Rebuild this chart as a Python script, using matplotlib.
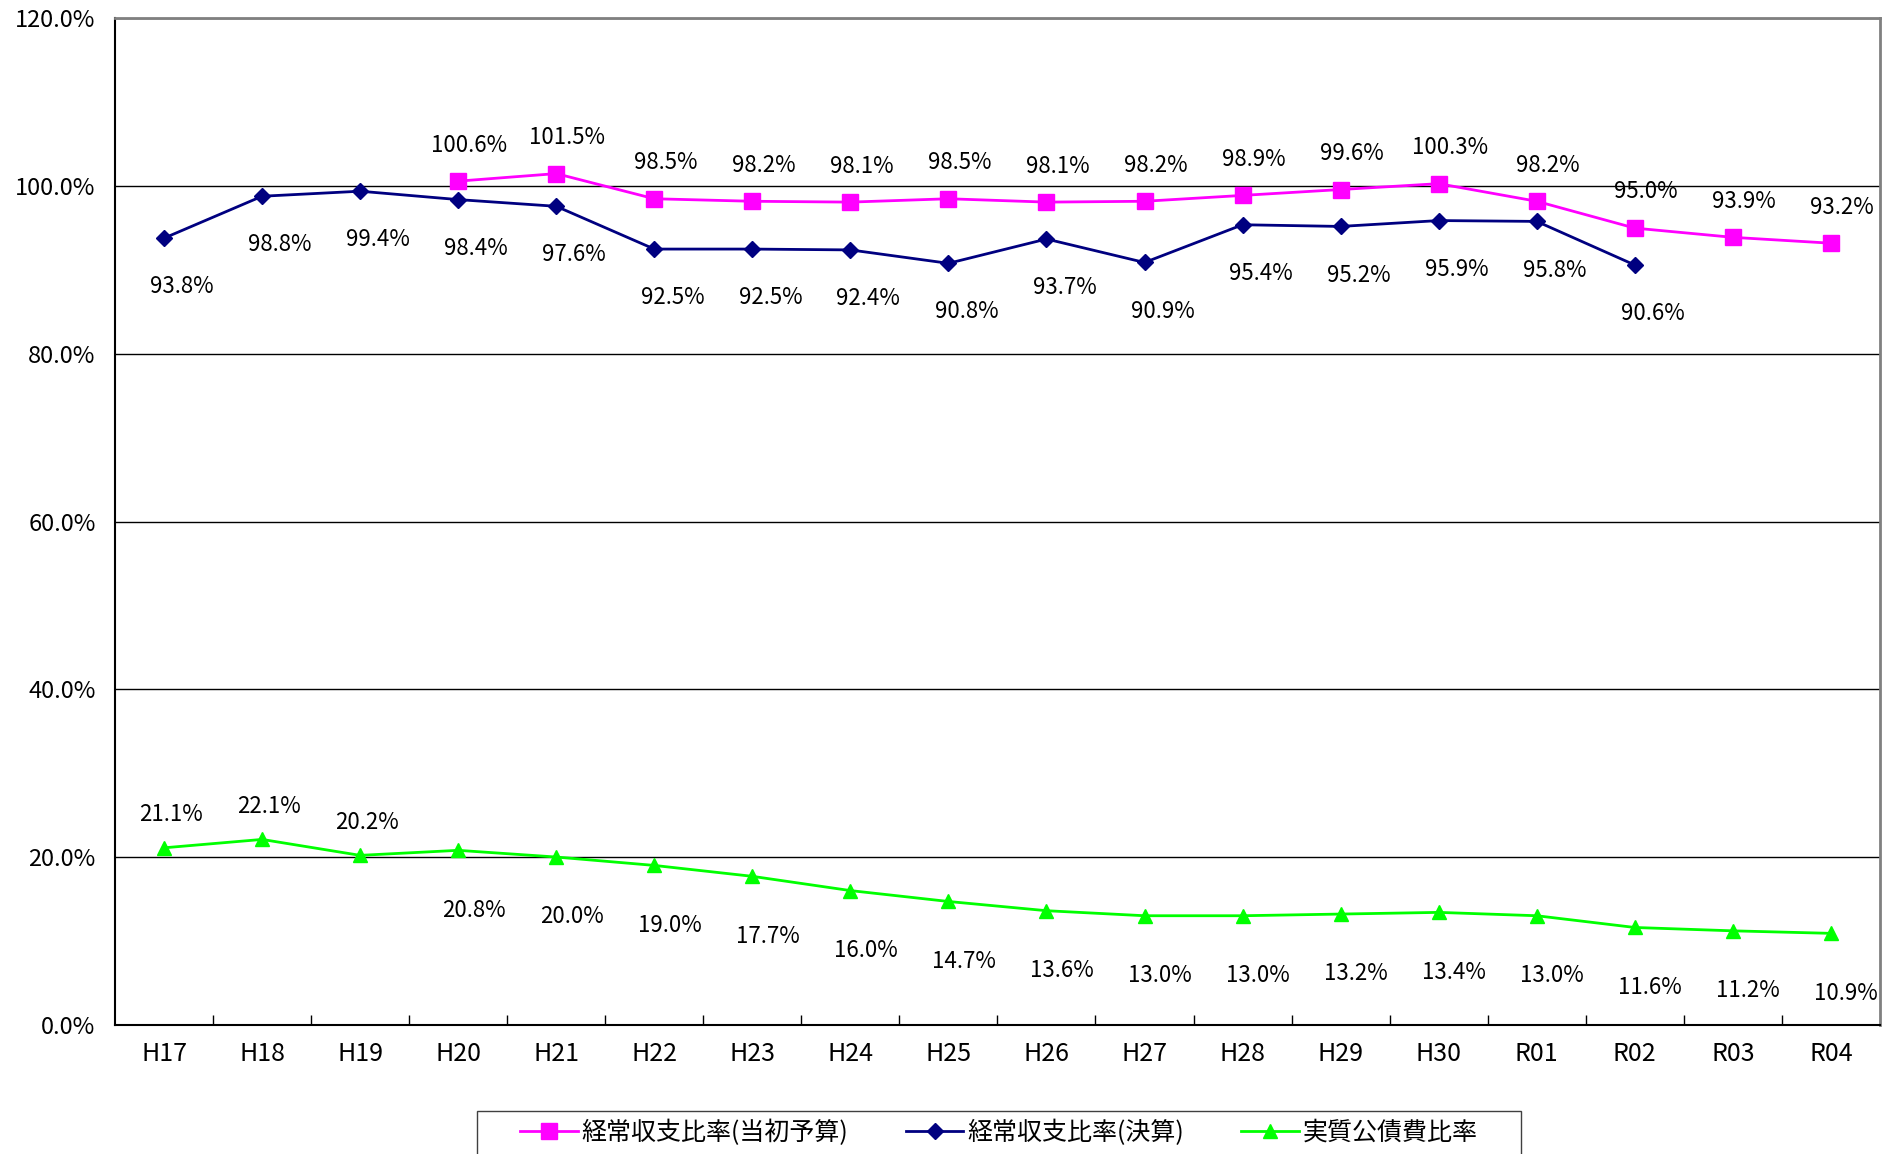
import matplotlib.pyplot as plt
from matplotlib.patches import Rectangle
import numpy as np

plt.rcParams['font.family'] = ['Noto Sans CJK JP', 'DejaVu Sans']

years = ['H17', 'H18', 'H19', 'H20', 'H21', 'H22', 'H23', 'H24', 'H25',
         'H26', 'H27', 'H28', 'H29', 'H30', 'R01', 'R02', 'R03', 'R04']

# 経常収支比率(当初予算) H20-R04
budget = [np.nan, np.nan, np.nan, 100.6, 101.5, 98.5, 98.2, 98.1, 98.5,
          98.1, 98.2, 98.9, 99.6, 100.3, 98.2, 95.0, 93.9, 93.2]
# 経常収支比率(決算) H17-R02
settled = [93.8, 98.8, 99.4, 98.4, 97.6, 92.5, 92.5, 92.4, 90.8,
           93.7, 90.9, 95.4, 95.2, 95.9, 95.8, 90.6, np.nan, np.nan]
# 実質公債費比率
debt = [21.1, 22.1, 20.2, 20.8, 20.0, 19.0, 17.7, 16.0, 14.7,
        13.6, 13.0, 13.0, 13.2, 13.4, 13.0, 11.6, 11.2, 10.9]

fig = plt.figure(figsize=(18.85, 11.54), dpi=100)
ax = fig.add_axes([0.061, 0.112, 0.9363, 0.872])

x = np.arange(len(years))
ax.plot(x, budget, color='#FF00FF', lw=2, marker='s', ms=11, label='経常収支比率(当初予算)', zorder=4)
ax.plot(x, settled, color='#000080', lw=2, marker='D', ms=8, label='経常収支比率(決算)', zorder=4)
ax.plot(x, debt, color='#00FF00', lw=2, marker='^', ms=10, label='実質公債費比率', zorder=4)

fs = 16
for i, v in enumerate(budget):
    if not np.isnan(v):
        ax.annotate(f'{v:.1f}%', (i, v), xytext=(8, 26), textcoords='offset points',
                    ha='center', va='center', fontsize=fs)
for i, v in enumerate(settled):
    if not np.isnan(v):
        ax.annotate(f'{v:.1f}%', (i, v), xytext=(13, -35), textcoords='offset points',
                    ha='center', va='center', fontsize=fs)
for i, v in enumerate(debt):
    if i < 3:
        ax.annotate(f'{v:.1f}%', (i, v), xytext=(5, 24), textcoords='offset points',
                    ha='center', va='center', fontsize=fs)
    else:
        ax.annotate(f'{v:.1f}%', (i, v), xytext=(11, -43), textcoords='offset points',
                    ha='center', va='center', fontsize=fs)

ax.set_xlim(-0.5, len(years) - 0.5)
ax.set_ylim(0, 120)
ax.set_yticks(np.arange(0, 121, 20))
ax.set_yticklabels([f'{t:.1f}%' for t in np.arange(0, 121, 20)])
ax.set_xticks(x)
ax.set_xticklabels(years)
ax.set_xticks(np.arange(0.5, len(years) - 0.5, 1), minor=True)
ax.tick_params(axis='x', which='major', length=0, pad=12, labelsize=18)
ax.tick_params(axis='x', which='minor', direction='in', length=7, width=1)
ax.tick_params(axis='y', length=0, pad=14, labelsize=17)
ax.grid(axis='y', color='black', lw=1)
ax.set_axisbelow(True)

ax.spines['left'].set_color('black')
ax.spines['left'].set_linewidth(1.5)
ax.spines['bottom'].set_color('black')
ax.spines['bottom'].set_linewidth(1.5)
ax.spines['top'].set_color('#808080')
ax.spines['top'].set_linewidth(2)
ax.spines['right'].set_color('#808080')
ax.spines['right'].set_linewidth(2)

# legend box (cut by the bottom edge like the original)
fig.patches.append(Rectangle((0.253, -0.02), 0.554, 0.0573, transform=fig.transFigure,
                             facecolor='white', edgecolor='#404040', lw=1))
leg = fig.legend(loc='center', bbox_to_anchor=(0.530, 0.0185), ncol=3, fontsize=18,
                 frameon=False, handlelength=2.3, handletextpad=0.15,
                 columnspacing=2.3, borderpad=0, borderaxespad=0)

plt.savefig('out.png', dpi=100)
